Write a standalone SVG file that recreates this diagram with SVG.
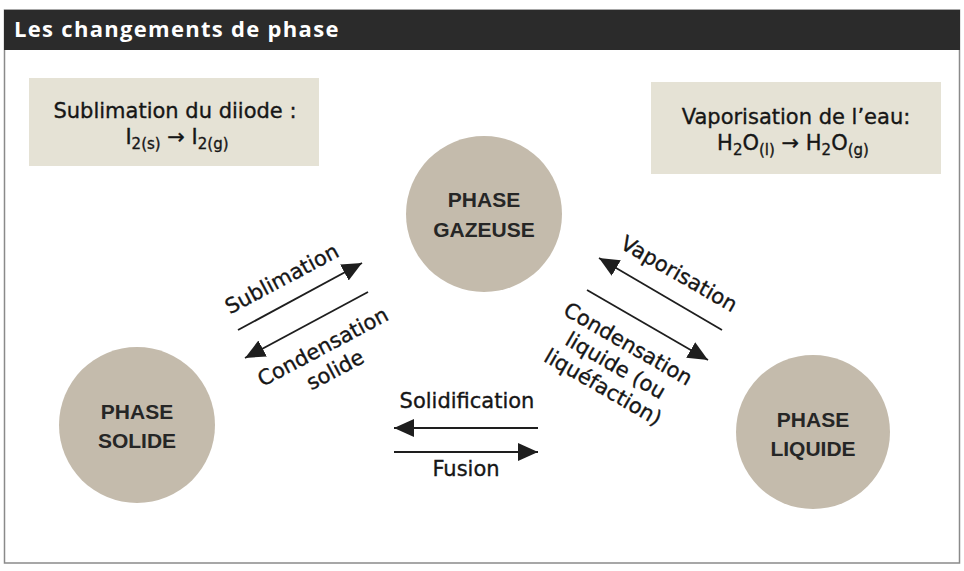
<svg xmlns="http://www.w3.org/2000/svg" width="964" height="571" viewBox="0 0 964 571">
<defs>
<style>
.lbl{font-family:"DejaVu Sans","Liberation Sans",sans-serif;font-size:21px;fill:#161616;stroke:#161616;stroke-width:0.35}
.ph{font-family:"Liberation Sans",Arial,sans-serif;font-size:21px;font-weight:bold;fill:#262626;text-anchor:middle}
.circ{fill:#c4bbac}
.box{fill:#e5e2d5}
.arr{stroke:#1e1e1e;stroke-width:1.8;fill:none;marker-end:url(#ah)}
.sub{font-size:15px}
</style>
<marker id="ah" markerUnits="userSpaceOnUse" markerWidth="22" markerHeight="20" refX="20" refY="9" orient="auto" viewBox="0 0 22 20">
<path d="M0,0 L20,9 L0,18 z" fill="#1e1e1e"/>
</marker>
</defs>
<rect x="0" y="0" width="964" height="571" fill="#ffffff"/>
<rect x="4.5" y="10" width="955" height="553" fill="#ffffff" stroke="#8a8a8a" stroke-width="1.5"/>
<g id="header">
<rect x="4" y="10" width="956" height="40" fill="#2b2b2b"/>
<text x="14" y="37" font-family="'Open Sans','DejaVu Sans',sans-serif" font-size="22" font-weight="bold" fill="#ffffff" letter-spacing="1.3">Les changements de phase</text>
</g>
<g id="box-sublimation">
<rect class="box" x="29" y="78" width="290" height="88"/>
<text class="lbl" x="175" y="118" text-anchor="middle">Sublimation du diiode :</text>
<text class="lbl" x="177" y="144" text-anchor="middle">I<tspan class="sub" dy="5">2(s)</tspan><tspan dy="-5"> → I</tspan><tspan class="sub" dy="5">2(g)</tspan></text>
</g>
<g id="box-vaporisation">
<rect class="box" x="651" y="82" width="290" height="92"/>
<text class="lbl" x="796" y="124" text-anchor="middle">Vaporisation de l’eau:</text>
<text class="lbl" x="793" y="150" text-anchor="middle">H<tspan class="sub" dy="5">2</tspan><tspan dy="-5">O</tspan><tspan class="sub" dy="5">(l)</tspan><tspan dy="-5"> → H</tspan><tspan class="sub" dy="5">2</tspan><tspan dy="-5">O</tspan><tspan class="sub" dy="5">(g)</tspan></text>
</g>
<g id="phase-gazeuse">
<circle class="circ" cx="484" cy="214" r="78"/>
<text class="ph" x="484" y="207">PHASE</text>
<text class="ph" x="484" y="237">GAZEUSE</text>
</g>
<g id="phase-solide">
<circle class="circ" cx="137" cy="425" r="78"/>
<text class="ph" x="137" y="419">PHASE</text>
<text class="ph" x="137" y="448">SOLIDE</text>
</g>
<g id="phase-liquide">
<circle class="circ" cx="813" cy="432" r="77"/>
<text class="ph" x="813" y="427">PHASE</text>
<text class="ph" x="813" y="456">LIQUIDE</text>
</g>
<g id="connectors">
<line class="arr" x1="238" y1="330" x2="362" y2="263"/>
<line class="arr" x1="368" y1="292" x2="245" y2="358"/>
<line class="arr" x1="722" y1="330" x2="599" y2="258"/>
<line class="arr" x1="587" y1="290" x2="708" y2="360"/>
<line class="arr" x1="538" y1="428" x2="394" y2="428"/>
<line class="arr" x1="394" y1="452" x2="538" y2="452"/>
</g>
<g id="labels">
<text class="lbl" text-anchor="middle" transform="translate(282,279) rotate(-28)" y="7">Sublimation</text>
<g transform="translate(323,347) rotate(-28)">
<text class="lbl" text-anchor="middle" y="7">Condensation</text>
<text class="lbl" text-anchor="middle" y="33">solide</text>
</g>
<text class="lbl" text-anchor="middle" transform="translate(679,274) rotate(30)" y="7">Vaporisation</text>
<g transform="translate(628,344) rotate(30)">
<text class="lbl" text-anchor="middle" y="7">Condensation</text>
<text class="lbl" text-anchor="middle" y="32">liquide (ou</text>
<text class="lbl" text-anchor="middle" y="57">liquéfaction)</text>
</g>
<text class="lbl" text-anchor="middle" x="467" y="408">Solidification</text>
<text class="lbl" text-anchor="middle" x="466" y="476">Fusion</text>
</g>
</svg>
